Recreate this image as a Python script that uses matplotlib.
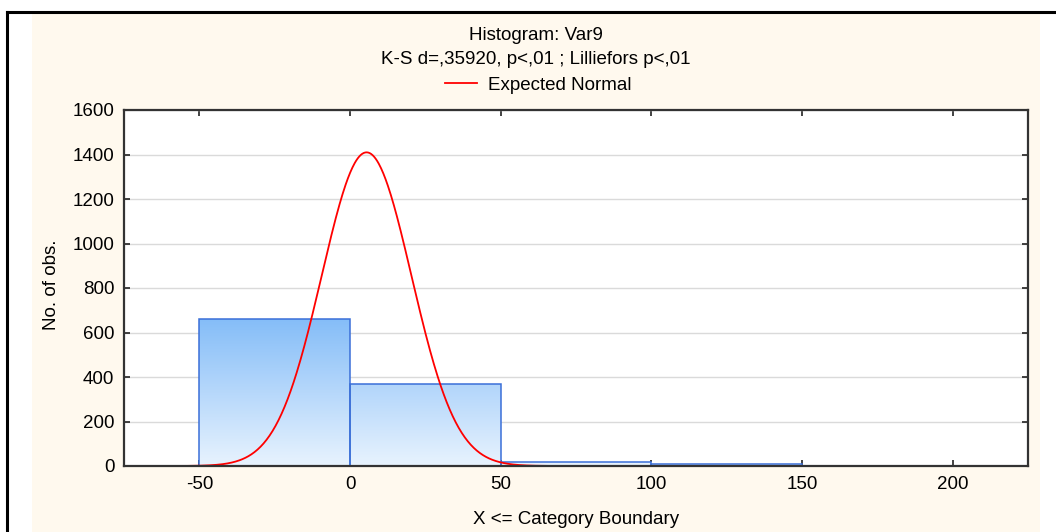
import numpy as np
import matplotlib
matplotlib.use("Agg")
import matplotlib.pyplot as plt
from matplotlib.patches import Rectangle
from matplotlib.colors import LinearSegmentedColormap

plt.rcParams['font.family'] = ['Liberation Sans', 'DejaVu Sans']
plt.rcParams['axes.unicode_minus'] = False

# histogram data
bin_edges = [-50, 0, 50, 100, 150]
counts = [660, 370, 16, 7]
# expected normal parameters
mean_x = 5.5
sd_x = 14.9
n_obs = sum(counts)
bin_w = 50

title_lines = ["Histogram: Var9", "K-S d=,35920, p<,01 ; Lilliefors p<,01"]
xticks = [-50, 0, 50, 100, 150, 200]
yticks = [0, 200, 400, 600, 800, 1000, 1200, 1400, 1600]

W, H = 1056, 532
FS = 13.5
fig = plt.figure(figsize=(W / 100, H / 100), dpi=100)
fig.patch.set_facecolor('white')

# cream panel + black frame
fig.patches.append(Rectangle((32 / W, 0), (1040 - 32) / W, 1 - 13 / H,
                             transform=fig.transFigure, facecolor='#FFF9EE',
                             edgecolor='none', zorder=-5))
fig.add_artist(plt.Line2D([7 / W, 7 / W], [0, 1 - 12 / H], transform=fig.transFigure,
                          color='black', lw=2.2, zorder=-4))
fig.add_artist(plt.Line2D([7 / W, 1], [1 - 12 / H, 1 - 12 / H], transform=fig.transFigure,
                          color='black', lw=2.2, zorder=-4))

ax = fig.add_axes([124 / W, 1 - 466 / H, (1028 - 124) / W, (466 - 110) / H], zorder=2)
ax.set_facecolor('white')

# gradient bars
cmap = LinearSegmentedColormap.from_list('bl', ['#E8F3FE', '#85BDF8'])
grad = np.linspace(0, 1, 256).reshape(-1, 1)
top = max(counts)
for left, c in zip(bin_edges[:-1], counts):
    if c <= 0:
        continue
    rect = Rectangle((left, 0), bin_w, c, facecolor='none', edgecolor='#3A6FD8',
                     lw=1.1, zorder=3)
    ax.add_patch(rect)
    im = ax.imshow(grad, cmap=cmap, origin='lower', aspect='auto',
                   extent=[bin_edges[0], bin_edges[-1], 0, top], zorder=2,
                   interpolation='bilinear')
    im.set_clip_path(rect)
ax.set_xlim(-75, 225)
ax.set_ylim(0, 1600)

xs = np.linspace(-75, 225, 1200)
ys = n_obs * bin_w / (sd_x * np.sqrt(2 * np.pi)) * np.exp(-0.5 * ((xs - mean_x) / sd_x) ** 2)
curve, = ax.plot(xs, ys, color='#FF0000', lw=1.3, zorder=4, label='Expected Normal')

ax.set_xticks(xticks)
ax.set_yticks(yticks)
ax.grid(axis='y', color='#DADADA', lw=1)
ax.set_axisbelow(True)
ax.tick_params(direction='in', length=4, width=1.2, top=True, right=True,
               labelsize=FS, pad=7, colors='#222222', labelcolor='black')
for s in ax.spines.values():
    s.set_color('#333333')
    s.set_linewidth(1.6)
    s.set_zorder(5)

fig.text(536 / W, 1 - 35 / H, title_lines[0], ha='center', va='center', fontsize=FS)
fig.text(536 / W, 1 - 60 / H, title_lines[1], ha='center', va='center', fontsize=FS)
fig.legend(handles=[curve], loc='center', bbox_to_anchor=(538 / W, 1 - 85 / H),
           frameon=False, fontsize=FS, handlelength=1.7, handletextpad=0.6)
fig.text(576 / W, 1 - 519 / H, "X <= Category Boundary", ha='center', va='center',
         fontsize=FS)
fig.text(52 / W, 1 - 285 / H, "No. of obs.", ha='center', va='center',
         rotation=90, fontsize=FS)

fig.savefig('out.png', dpi=100)
